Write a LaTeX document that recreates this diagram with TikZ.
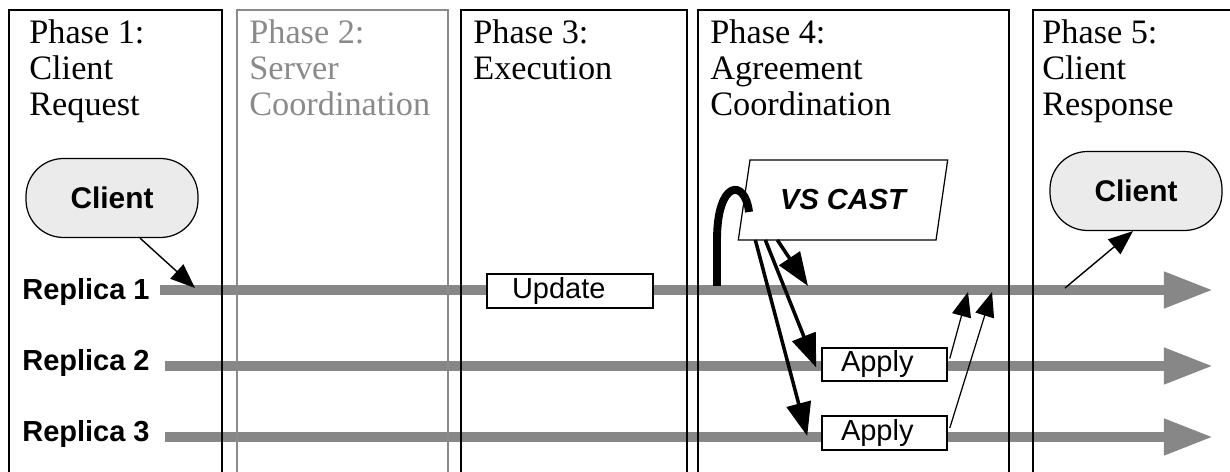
\documentclass[tikz,border=0pt]{standalone}
\usepackage{fontspec}
\setmainfont{Liberation Serif}
\setsansfont{Liberation Sans}
\usetikzlibrary{arrows.meta,shapes.geometric,calc}
\definecolor{lanegray}{HTML}{878787}
\definecolor{phasegray}{HTML}{8A8A8A}
\definecolor{clientfill}{HTML}{EBEBEB}
\newlength{\FrameWidth}
\newlength{\LaneWidth}
\setlength{\FrameWidth}{0.8pt}
\setlength{\LaneWidth}{5.7pt}
\tikzset{
  phase frame/.style={draw, line width=\FrameWidth},
  phase label/.style={anchor=north west, inner sep=0pt, align=left, font=\fontsize{19.5}{20.5}\selectfont},
  replica label/.style={anchor=base west, inner sep=0pt, font=\sffamily\bfseries\fontsize{16.5}{18}\selectfont},
  lifeline/.style={draw=lanegray, line width=\LaneWidth, -{Triangle[length=28pt,width=19.5pt]}},
  client node/.style={draw, line width=0.7pt, fill=clientfill, rounded corners=0.75cm, minimum width=3.44cm, minimum height=1.58cm, font=\sffamily\bfseries\fontsize{17}{19}\selectfont},
  op box/.style={draw, fill=white, line width=0.9pt, inner ysep=0pt, align=left, minimum height=0.67cm, font=\sffamily\fontsize{16.5}{18}\selectfont},
  cast node/.style={trapezium, trapezium left angle=69, trapezium right angle=111, trapezium stretches=true, draw, fill=white, line width=0.7pt, minimum width=4.2cm, minimum height=1.6cm, inner sep=0pt, outer sep=0pt, font=\sffamily\bfseries\itshape\fontsize{16.5}{18}\selectfont},
  cast msg/.style={line width=2pt, -{Triangle[length=19pt,width=14pt]}},
  reply msg/.style={line width=0.7pt, -{Triangle[length=14pt,width=11pt]}},
}

\begin{document}
\begin{tikzpicture}[x=0.02cm, y=-0.02cm]
  \useasboundingbox (0,0) rectangle (1230,472);
  \clip (0,0) rectangle (1230,472);

  \coordinate (lane1) at (160,290);
  \coordinate (lane2) at (165,366);
  \coordinate (lane3) at (165,437);
  \coordinate (lane1 end) at (1213,290);
  \coordinate (lane2 end) at (1213,366);
  \coordinate (lane3 end) at (1213,437);
  \draw[lifeline] (lane1) -- (lane1 end);
  \draw[lifeline] (lane2) -- (lane2 end);
  \draw[lifeline] (lane3) -- (lane3 end);

  \foreach \xa/\xb/\col in {9/222/black, 237/448/phasegray, 461/687/black, 698/1009/black, 1033/1260/black}
    \draw[phase frame, draw=\col] (\xa,10) rectangle (\xb,490);

  \node[phase label] (ph1) at (29,19) {Phase 1:\\Client\\Request};
  \node[phase label, text=phasegray] (ph2) at (249,19) {Phase 2:\\Server\\Coordination};
  \node[phase label] (ph3) at (473,19) {Phase 3:\\Execution};
  \node[phase label] (ph4) at (710,19) {Phase 4:\\Agreement\\Coordination};
  \node[phase label] (ph5) at (1042,19) {Phase 5:\\Client\\Response};

  \node[replica label] (rep1) at (22,300) {Replica 1};
  \node[replica label] (rep2) at (22,371) {Replica 2};
  \node[replica label] (rep3) at (22,441) {Replica 3};

  \node[client node] (cl1) at (112,198) {Client};
  \node[client node] (cl2) at (1136,191) {Client};

  \node[op box, inner xsep=0.5cm, text width=2.32cm] (upd) at (570,291) {Update};
  \node[op box, inner xsep=0.38cm, text width=1.74cm] (ap2) at (884.5,364.5) {Apply};
  \node[op box, inner xsep=0.38cm, text width=1.74cm] (ap3) at (884.5,433) {Apply};

  \node[cast node] (vs) at (843,200) {VS CAST};

  \coordinate (loop start) at (717,286);
  \coordinate (loop end) at (749,212);
  \draw[line width=4.5pt] (loop start) -- (717,240) .. controls (717,180) and (745,178) .. (loop end);

  \coordinate (cast tip) at (808,286);
  \draw[cast msg] ($(vs.bottom left corner)+(39,0)$) -- (cast tip);
  \draw[cast msg] ($(vs.bottom left corner)+(27,0)$) -- ($(ap2.west)+(-5,3)$);
  \draw[cast msg] ($(vs.bottom left corner)+(17,0)$) -- ($(ap3.west)+(-14,3)$);

  \coordinate (ack1) at (968,292);
  \coordinate (ack2) at (992,292);
  \draw[reply msg] ($(ap2.east)+(2,-6)$) -- (ack1);
  \draw[reply msg] ($(ap3.east)+(2,-5)$) -- (ack2);

  \coordinate (req tip) at (195,288);
  \coordinate (resp start) at (1065,288);
  \draw[reply msg, line width=0.8pt] ($(cl1.south)+(28,0)$) -- (req tip);
  \draw[reply msg, line width=0.8pt] (resp start) -- ($(cl2.south)+(-3,0)$);
\end{tikzpicture}
\end{document}
